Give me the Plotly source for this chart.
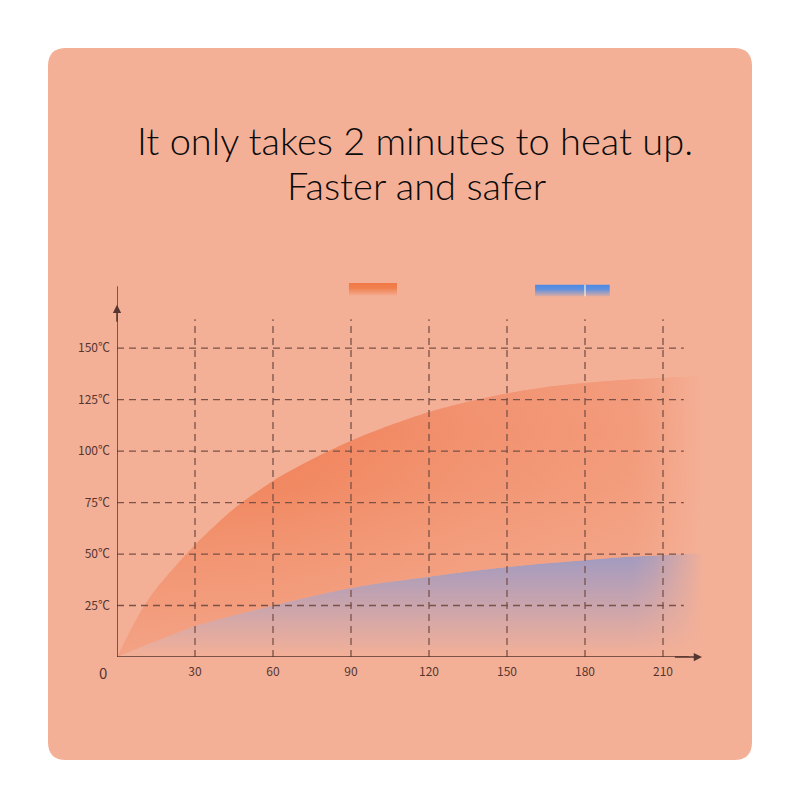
import plotly.graph_objects as go

# heating time (s) vs temperature
seconds = [0, 5, 10, 15, 30, 45, 60, 75, 90, 105, 120, 135, 150, 165, 180, 195, 210, 225]
fast_temp = [0, 12.5, 24, 33, 54.5, 72, 85.5, 96, 105, 112.5, 119, 124, 128, 131, 133, 134.5, 135.5, 136.5]
slow_temp = [0, 2.6, 5.2, 7.6, 15, 20.3, 25, 29.5, 33.5, 36.5, 39, 41.5, 43.7, 45.5, 47, 48.5, 49.5, 50.5]

x_ticks = [30, 60, 90, 120, 150, 180, 210]
y_ticks = [25, 50, 75, 100, 125, 150]
y_labels = ['25℃', '50℃', '75℃', '100℃', '125℃', '150℃']

card = '#F4B097'
ink = '#553530'
grid = '#7A5248'
label_font = dict(family='Noto Sans CJK SC', size=12, color=ink)
title_font = dict(family='Lato', size=38, color='#0a0a0a', weight=300)
curve = dict(width=0, shape='spline', smoothing=0.8)

fig = go.Figure()

# slow heater (blue) first, fast heater fills down to it
fig.add_trace(go.Scatter(
    x=seconds, y=slow_temp, mode='lines', line=curve,
    fill='tozeroy',
    fillgradient=dict(type='vertical', start=0, stop=50,
                      colorscale=[[0, 'rgba(150,150,200,0.0)'],
                                  [0.45, 'rgba(148,150,200,0.4)'],
                                  [1, 'rgba(145,150,200,0.85)']]),
    hoverinfo='skip', showlegend=False))
fig.add_trace(go.Scatter(
    x=seconds, y=fast_temp, mode='lines', line=curve,
    fill='tonexty',
    fillgradient=dict(type='vertical', start=0, stop=136,
                      colorscale=[[0, 'rgba(242,145,110,0.45)'],
                                  [0.35, 'rgba(241,135,95,0.68)'],
                                  [0.6, 'rgba(240,125,82,0.84)'],
                                  [0.8, 'rgba(240,122,80,0.92)'],
                                  [1, 'rgba(240,125,85,0.9)']]),
    hoverinfo='skip', showlegend=False))
# wash the orange band out towards the right
fig.add_trace(go.Scatter(
    x=seconds, y=slow_temp, mode='lines', line=curve,
    hoverinfo='skip', showlegend=False))
fig.add_trace(go.Scatter(
    x=seconds, y=fast_temp, mode='lines', line=curve,
    fill='tonexty',
    fillgradient=dict(type='horizontal', start=0, stop=225,
                      colorscale=[[0, 'rgba(244,176,151,0)'],
                                  [0.3, 'rgba(244,176,151,0.1)'],
                                  [0.6, 'rgba(244,176,151,0.38)'],
                                  [1, 'rgba(244,176,151,0.65)']]),
    hoverinfo='skip', showlegend=False))

# fade out at the right end
fig.add_trace(go.Scatter(
    x=[198, 228, 228, 198, 198], y=[0.6, 0.6, 140, 140, 0.6], mode='lines',
    line=dict(width=0), fill='toself',
    fillgradient=dict(type='horizontal', start=198, stop=226,
                      colorscale=[[0, 'rgba(244,176,151,0)'], [0.3, 'rgba(244,176,151,0.2)'],
                                  [1, 'rgba(244,176,151,1)']]),
    hoverinfo='skip', showlegend=False))

# legend swatches (no text in the original)
fig.add_trace(go.Scatter(
    x=[89.2, 107.7, 107.7, 89.2, 89.2], y=[175.5, 175.5, 181.6, 181.6, 175.5],
    mode='lines', line=dict(width=0), fill='toself',
    fillgradient=dict(type='vertical', start=175.5, stop=181.6,
                      colorscale=[[0, 'rgba(240,122,70,0.1)'], [0.6, 'rgba(240,122,70,0.9)'],
                                  [1, 'rgba(240,120,68,1)']]),
    hoverinfo='skip', showlegend=False))
fig.add_trace(go.Scatter(
    x=[160.8, 189.5, 189.5, 160.8, 160.8], y=[175.2, 175.2, 180.8, 180.8, 175.2],
    mode='lines', line=dict(width=0), fill='toself',
    fillgradient=dict(type='vertical', start=175.2, stop=180.8,
                      colorscale=[[0, 'rgba(80,140,230,0.15)'], [0.6, 'rgba(78,140,230,0.9)'],
                                  [1, 'rgba(75,138,230,1)']]),
    hoverinfo='skip', showlegend=False))

shapes = []
# card (the page puts the plot 8px in from the corner)
r = 0.0225
x0, x1, y0, y1 = 0.05, 0.93, 0.06, 0.95
path = (f'M {x0 + r},{y0} L {x1 - r},{y0} Q {x1},{y0} {x1},{y0 + r} '
        f'L {x1},{y1 - r} Q {x1},{y1} {x1 - r},{y1} L {x0 + r},{y1} '
        f'Q {x0},{y1} {x0},{y1 - r} L {x0},{y0 + r} Q {x0},{y0} {x0 + r},{y0} Z')
shapes.append(dict(type='path', path=path, xref='paper', yref='paper',
                   fillcolor=card, line=dict(width=0), layer='below'))
# dashed grid
for t in x_ticks:
    shapes.append(dict(type='line', x0=t, x1=t, y0=0, y1=164, xref='x', yref='y',
                       line=dict(color=grid, width=1.3, dash='7px,5px'), layer='above'))
for t in y_ticks:
    shapes.append(dict(type='line', x0=0, x1=218, y0=t, y1=t, xref='x', yref='y',
                       line=dict(color=grid, width=1.3, dash='7px,5px'), layer='above'))
# axes
shapes.append(dict(type='line', x0=0, x1=220, y0=0, y1=0, xref='x', yref='y',
                   line=dict(color=ink, width=1.5), layer='above'))
shapes.append(dict(type='line', x0=0, x1=0, y0=0, y1=180, xref='x', yref='y',
                   line=dict(color=ink, width=1.5), layer='above'))
# light seam on the blue swatch
shapes.append(dict(type='line', x0=180, x1=180, y0=175.2, y1=180.8, xref='x', yref='y',
                   line=dict(color='rgba(255,235,225,0.8)', width=1.5), layer='above'))

annotations = [
    dict(text='It only takes 2 minutes to heat up.', x=0.509, y=0.835, xref='paper', yref='paper',
         xanchor='center', yanchor='middle', showarrow=False, font=title_font),
    dict(text='Faster and safer', x=0.51, y=0.779, xref='paper', yref='paper',
         xanchor='center', yanchor='middle', showarrow=False, font=title_font),
    dict(text='0', x=0.11875, y=0.17, xref='paper', yref='paper', showarrow=False,
         xanchor='center', yanchor='middle',
         font=dict(family='Noto Sans CJK SC', size=15, color=ink)),
    # arrow heads
    dict(x=225, y=0, ax=214, ay=0, xref='x', yref='y', axref='x', ayref='y', text='',
         showarrow=True, arrowhead=2, arrowsize=1.1, arrowwidth=1.5, arrowcolor=ink),
    dict(x=0, y=171, ax=0, ay=162, xref='x', yref='y', axref='x', ayref='y', text='',
         showarrow=True, arrowhead=2, arrowsize=1.1, arrowwidth=1.5, arrowcolor=ink),
]

fig.update_layout(
    width=800, height=800, autosize=False,
    margin=dict(l=0, r=0, t=0, b=0),
    paper_bgcolor='white', plot_bgcolor='rgba(0,0,0,0)',
    showlegend=False,
    shapes=shapes, annotations=annotations,
    xaxis=dict(range=[0, 230], domain=[0.13625, 0.88375], showgrid=False, zeroline=False,
               showline=False, tickvals=x_ticks, ticks='', ticklabelstandoff=6,
               tickfont=label_font, fixedrange=True),
    yaxis=dict(range=[0, 185], domain=[0.18875, 0.665], showgrid=False, zeroline=False,
               showline=False, tickvals=y_ticks, ticktext=y_labels, ticks='',
               ticklabelstandoff=6, tickfont=label_font, fixedrange=True),
)

fig.write_html('out.html')
